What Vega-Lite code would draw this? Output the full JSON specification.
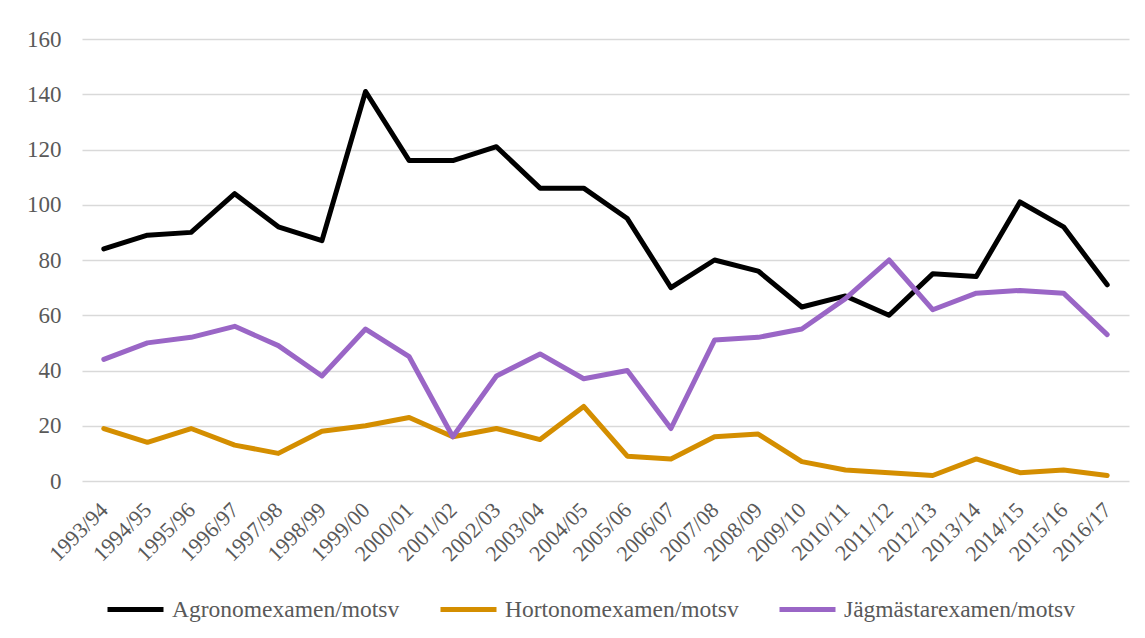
{
  "$schema": "https://vega.github.io/schema/vega-lite/v6.json",
  "width": 1047,
  "height": 442,
  "autosize": {"type": "none"},
  "padding": {"left": 82, "top": 39, "right": 16, "bottom": 157},
  "background": "white",
  "data": {
    "values": [
      {"year": "1993/94", "Agronomexamen/motsv": 84, "Hortonomexamen/motsv": 19, "Jägmästarexamen/motsv": 44},
      {"year": "1994/95", "Agronomexamen/motsv": 89, "Hortonomexamen/motsv": 14, "Jägmästarexamen/motsv": 50},
      {"year": "1995/96", "Agronomexamen/motsv": 90, "Hortonomexamen/motsv": 19, "Jägmästarexamen/motsv": 52},
      {"year": "1996/97", "Agronomexamen/motsv": 104, "Hortonomexamen/motsv": 13, "Jägmästarexamen/motsv": 56},
      {"year": "1997/98", "Agronomexamen/motsv": 92, "Hortonomexamen/motsv": 10, "Jägmästarexamen/motsv": 49},
      {"year": "1998/99", "Agronomexamen/motsv": 87, "Hortonomexamen/motsv": 18, "Jägmästarexamen/motsv": 38},
      {"year": "1999/00", "Agronomexamen/motsv": 141, "Hortonomexamen/motsv": 20, "Jägmästarexamen/motsv": 55},
      {"year": "2000/01", "Agronomexamen/motsv": 116, "Hortonomexamen/motsv": 23, "Jägmästarexamen/motsv": 45},
      {"year": "2001/02", "Agronomexamen/motsv": 116, "Hortonomexamen/motsv": 16, "Jägmästarexamen/motsv": 16},
      {"year": "2002/03", "Agronomexamen/motsv": 121, "Hortonomexamen/motsv": 19, "Jägmästarexamen/motsv": 38},
      {"year": "2003/04", "Agronomexamen/motsv": 106, "Hortonomexamen/motsv": 15, "Jägmästarexamen/motsv": 46},
      {"year": "2004/05", "Agronomexamen/motsv": 106, "Hortonomexamen/motsv": 27, "Jägmästarexamen/motsv": 37},
      {"year": "2005/06", "Agronomexamen/motsv": 95, "Hortonomexamen/motsv": 9, "Jägmästarexamen/motsv": 40},
      {"year": "2006/07", "Agronomexamen/motsv": 70, "Hortonomexamen/motsv": 8, "Jägmästarexamen/motsv": 19},
      {"year": "2007/08", "Agronomexamen/motsv": 80, "Hortonomexamen/motsv": 16, "Jägmästarexamen/motsv": 51},
      {"year": "2008/09", "Agronomexamen/motsv": 76, "Hortonomexamen/motsv": 17, "Jägmästarexamen/motsv": 52},
      {"year": "2009/10", "Agronomexamen/motsv": 63, "Hortonomexamen/motsv": 7, "Jägmästarexamen/motsv": 55},
      {"year": "2010/11", "Agronomexamen/motsv": 67, "Hortonomexamen/motsv": 4, "Jägmästarexamen/motsv": 66},
      {"year": "2011/12", "Agronomexamen/motsv": 60, "Hortonomexamen/motsv": 3, "Jägmästarexamen/motsv": 80},
      {"year": "2012/13", "Agronomexamen/motsv": 75, "Hortonomexamen/motsv": 2, "Jägmästarexamen/motsv": 62},
      {"year": "2013/14", "Agronomexamen/motsv": 74, "Hortonomexamen/motsv": 8, "Jägmästarexamen/motsv": 68},
      {"year": "2014/15", "Agronomexamen/motsv": 101, "Hortonomexamen/motsv": 3, "Jägmästarexamen/motsv": 69},
      {"year": "2015/16", "Agronomexamen/motsv": 92, "Hortonomexamen/motsv": 4, "Jägmästarexamen/motsv": 68},
      {"year": "2016/17", "Agronomexamen/motsv": 71, "Hortonomexamen/motsv": 2, "Jägmästarexamen/motsv": 53}
    ]
  },
  "transform": [
    {"fold": ["Agronomexamen/motsv", "Hortonomexamen/motsv", "Jägmästarexamen/motsv"], "as": ["serie", "antal"]}
  ],
  "mark": {"type": "line", "strokeWidth": 5, "strokeCap": "round", "strokeJoin": "round"},
  "encoding": {
    "x": {
      "field": "year",
      "type": "ordinal",
      "sort": null,
      "scale": {"type": "point", "padding": 0.5},
      "axis": {
        "title": null,
        "labelAngle": -45,
        "labelAlign": "right",
        "labelBaseline": "middle",
        "labelPadding": 25,
        "ticks": false,
        "domain": false,
        "grid": false,
        "labelFont": "Liberation Serif",
        "labelFontSize": 22,
        "labelColor": "#595959"
      }
    },
    "y": {
      "field": "antal",
      "type": "quantitative",
      "scale": {"domain": [0, 160], "nice": false},
      "axis": {
        "title": null,
        "values": [0, 20, 40, 60, 80, 100, 120, 140, 160],
        "ticks": false,
        "domain": false,
        "grid": true,
        "gridColor": "#d9d9d9",
        "gridWidth": 1.5,
        "labelPadding": 21,
        "labelFont": "Liberation Serif",
        "labelFontSize": 23,
        "labelColor": "#595959"
      }
    },
    "color": {
      "field": "serie",
      "type": "nominal",
      "scale": {
        "domain": ["Agronomexamen/motsv", "Hortonomexamen/motsv", "Jägmästarexamen/motsv"],
        "range": ["#000000", "#d48e00", "#9a66c6"]
      },
      "legend": {
        "title": null,
        "orient": "none",
        "direction": "horizontal",
        "legendX": 23,
        "legendY": 540,
        "symbolType": "stroke",
        "symbolSize": 3136,
        "symbolStrokeWidth": 5,
        "labelOffset": 6,
        "columnPadding": 30,
        "labelFont": "Liberation Serif",
        "labelFontSize": 23.5,
        "labelColor": "#595959",
        "labelLimit": 400
      }
    }
  },
  "config": {
    "view": {"stroke": null}
  }
}
